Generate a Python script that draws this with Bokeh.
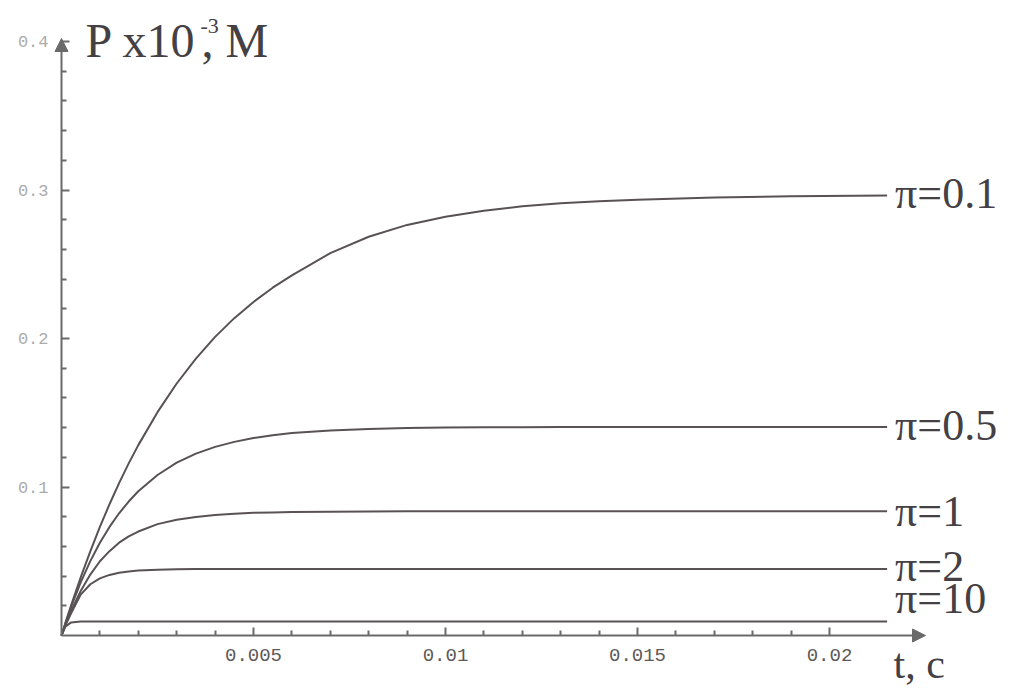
from bokeh.plotting import figure
from bokeh.models import (Range1d, FixedTicker, Label, Arrow, NormalHead)
from bokeh.embed import file_html
from bokeh.resources import INLINE

# ---------------- data ----------------
t = [0, 0.0001, 0.00025, 0.0005, 0.00075, 0.001, 0.00125, 0.0015, 0.00175, 0.002,
     0.0025, 0.003, 0.0035, 0.004, 0.0045, 0.005, 0.0055, 0.006, 0.007, 0.008,
     0.009, 0.010, 0.011, 0.012, 0.013, 0.014, 0.015, 0.017, 0.019, 0.0215]

p_01 = [0, 0.0083, 0.0203, 0.0391, 0.0567, 0.0731, 0.0884, 0.1026, 0.1159, 0.1282,
        0.1504, 0.1697, 0.1865, 0.2011, 0.2137, 0.2246, 0.2342, 0.2425, 0.2575, 0.2685,
        0.2765, 0.2820, 0.2860, 0.2890, 0.2910, 0.2925, 0.2935, 0.2950, 0.2958, 0.2963]
p_05 = [0, 0.0080, 0.0192, 0.0358, 0.0501, 0.0624, 0.0731, 0.0823, 0.0902, 0.0971,
        0.1081, 0.1164, 0.1225, 0.1270, 0.1304, 0.1330, 0.1349, 0.1363, 0.1381, 0.1391,
        0.1397, 0.1400, 0.1402, 0.1403, 0.1404, 0.1404, 0.1404, 0.1404, 0.1404, 0.1404]
p_1 = [0, 0.0072, 0.0165, 0.0300, 0.0410, 0.0500, 0.0568, 0.0625, 0.0668, 0.0700,
       0.0750, 0.0780, 0.0798, 0.0812, 0.0820, 0.0826, 0.0829, 0.0832, 0.0834, 0.0835,
       0.0836, 0.0836, 0.0836, 0.0836, 0.0836, 0.0836, 0.0836, 0.0836, 0.0836, 0.0836]
p_2 = [0, 0.0066, 0.0150, 0.0275, 0.0345, 0.0385, 0.0408, 0.0423, 0.0431, 0.0437,
       0.0443, 0.0446, 0.0447, 0.0447, 0.0448, 0.0448, 0.0448, 0.0448, 0.0448, 0.0448,
       0.0448, 0.0448, 0.0448, 0.0448, 0.0448, 0.0448, 0.0448, 0.0448, 0.0448, 0.0448]
p_10 = [0, 0.0060, 0.0088, 0.0094, 0.0095, 0.0095, 0.0095, 0.0095, 0.0095, 0.0095,
        0.0095, 0.0095, 0.0095, 0.0095, 0.0095, 0.0095, 0.0095, 0.0095, 0.0095, 0.0095,
        0.0095, 0.0095, 0.0095, 0.0095, 0.0095, 0.0095, 0.0095, 0.0095, 0.0095, 0.0095]

series_names = ["\u03c0=0.1", "\u03c0=0.5", "\u03c0=1", "\u03c0=2", "\u03c0=10"]
series_values = [p_01, p_05, p_1, p_2, p_10]

x_major = [0.005, 0.01, 0.015, 0.02]
x_major_labels = ["0.005", "0.01", "0.015", "0.02"]
x_minor = [0.001, 0.002, 0.003, 0.004, 0.006, 0.007, 0.008, 0.009, 0.011, 0.012,
           0.013, 0.014, 0.016, 0.017, 0.018, 0.019]
y_major = [0.1, 0.2, 0.3, 0.4]
y_major_labels = ["0.1", "0.2", "0.3", "0.4"]
y_minor = [0.02, 0.04, 0.06, 0.08, 0.12, 0.14, 0.16, 0.18, 0.22, 0.24, 0.26, 0.28,
           0.32, 0.34, 0.36, 0.38]

y_title = "P x10"
y_title_sup = "-3"
y_title_unit = ", M"
x_title = "t, c"

# ---------------- styling / layout ----------------
W, H = 1010, 688
ORIGIN_X, ORIGIN_Y = 61, 635       # pixel position of (0, 0)
PX_PER_X = 38400.0
PX_PER_Y = 1485.0

AX = "#6a6a6a"
CURVE = "#595255"
TXT = "#444044"
SERIF = "Liberation Serif"
MONO = "Liberation Mono"

p = figure(width=W, height=H, output_backend="svg", toolbar_location=None,
           x_range=Range1d(-ORIGIN_X / PX_PER_X, (W - ORIGIN_X) / PX_PER_X),
           y_range=Range1d(-(H - ORIGIN_Y) / PX_PER_Y, ORIGIN_Y / PX_PER_Y),
           min_border=0, min_border_left=0, min_border_right=0,
           min_border_top=0, min_border_bottom=0)
p.outline_line_color = None
p.grid.visible = False
p.background_fill_color = "#ffffff"
p.border_fill_color = "#ffffff"

for ax in (p.xaxis[0], p.yaxis[0]):
    ax.fixed_location = 0
    ax.axis_line_color = None
    ax.major_tick_line_color = AX
    ax.minor_tick_line_color = AX
    ax.major_tick_line_width = 2
    ax.minor_tick_line_width = 2
    ax.major_tick_in = 8
    ax.major_tick_out = 0
    ax.minor_tick_in = 5
    ax.minor_tick_out = 0

p.xaxis.ticker = FixedTicker(ticks=x_major, minor_ticks=x_minor)
p.xaxis.major_label_overrides = dict(zip(x_major, x_major_labels))
p.xaxis.major_label_text_font = MONO
p.xaxis.major_label_text_font_size = "19px"
p.xaxis.major_label_text_color = "#5e5858"
p.xaxis.major_label_standoff = 13

p.yaxis.ticker = FixedTicker(ticks=y_major, minor_ticks=y_minor)
p.yaxis.major_label_overrides = dict(zip(y_major, y_major_labels))
p.yaxis.major_label_text_font = MONO
p.yaxis.major_label_text_font_size = "17px"
p.yaxis.major_label_text_color = "#ababab"
p.yaxis.major_label_standoff = 13

# axes drawn as arrows
head_kw = dict(size=13, fill_color=AX, line_color=AX)
p.add_layout(Arrow(end=NormalHead(**head_kw), x_start=0, y_start=0,
                   x_end=864 / PX_PER_X, y_end=0, line_color=AX, line_width=2))
p.add_layout(Arrow(end=NormalHead(**head_kw), x_start=0, y_start=0,
                   x_end=0, y_end=597 / PX_PER_Y, line_color=AX, line_width=2))

# curves + their labels at the right end
label_dy = [2, 1.5, 0, 2.5, 23]
for name, vals, dy in zip(series_names, series_values, label_dy):
    p.line(t, vals, line_color=CURVE, line_width=2)
    p.add_layout(Label(x=t[-1], y=vals[-1], x_offset=8, y_offset=dy, text=name,
                       text_font=SERIF, text_font_size="44px", text_color=TXT,
                       text_baseline="middle"))

# axis titles (vertical positions are the text middles)
p.add_layout(Label(x=24 / PX_PER_X, y=595 / PX_PER_Y, text=y_title, text_font=SERIF,
                   text_font_size="48px", text_color=TXT, text_baseline="middle"))
p.add_layout(Label(x=139 / PX_PER_X, y=610 / PX_PER_Y, text=y_title_sup, text_font=SERIF,
                   text_font_size="22px", text_color=TXT, text_baseline="middle"))
p.add_layout(Label(x=140 / PX_PER_X, y=595 / PX_PER_Y, text=y_title_unit, text_font=SERIF,
                   text_font_size="48px", text_color=TXT, text_baseline="middle"))
p.add_layout(Label(x=832 / PX_PER_X, y=-28 / PX_PER_Y, text=x_title, text_font=SERIF,
                   text_font_size="42px", text_color=TXT, text_baseline="middle"))

open("out.html", "w").write(file_html(p, INLINE))
